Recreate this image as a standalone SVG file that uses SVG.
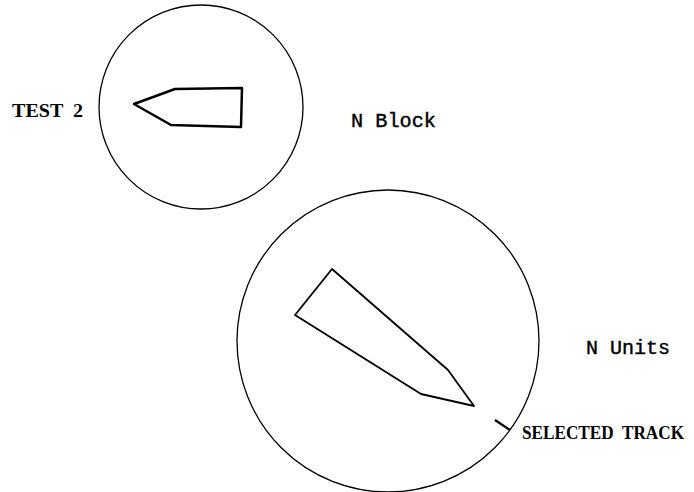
<svg xmlns="http://www.w3.org/2000/svg" width="694" height="492" viewBox="0 0 694 492">
<style>
.c{fill:none;stroke:#000;stroke-width:1.3}
.s{fill:none;stroke:#000;stroke-linejoin:round}
.serif{font-family:"Liberation Serif","Times New Roman",serif;fill:#000;font-weight:bold;white-space:pre}
.mono{font-family:"Liberation Mono","Courier New",monospace;fill:#000;stroke:#000;stroke-width:0.4}
</style>
<rect width="694" height="492" fill="#fff"/>
<g id="test2-circle">
<circle class="c" cx="201" cy="107" r="102"/>
<polygon class="s" stroke-width="2.5" points="134,104 175,89 242,88 241,127 171,125"/>
</g>
<g id="units-circle">
<circle class="c" cx="388" cy="341" r="151"/>
<polygon class="s" stroke-width="1.8" points="332,269 295,315 421,394 474,406 448,370"/>
</g>
<g id="connectors">
<line x1="495" y1="420" x2="510" y2="430" stroke="#000" stroke-width="2.2"/>
</g>
<g id="labels">
<text class="serif" x="12" y="117" font-size="18" textLength="71" lengthAdjust="spacingAndGlyphs" xml:space="preserve">TEST  2</text>
<text class="mono" x="351" y="127" font-size="20" textLength="85" lengthAdjust="spacingAndGlyphs">N Block</text>
<text class="mono" x="586" y="354" font-size="20" textLength="84" lengthAdjust="spacingAndGlyphs">N Units</text>
<text class="serif" x="522" y="439" font-size="18" textLength="162" lengthAdjust="spacingAndGlyphs" xml:space="preserve">SELECTED  TRACK</text>
</g>
</svg>
